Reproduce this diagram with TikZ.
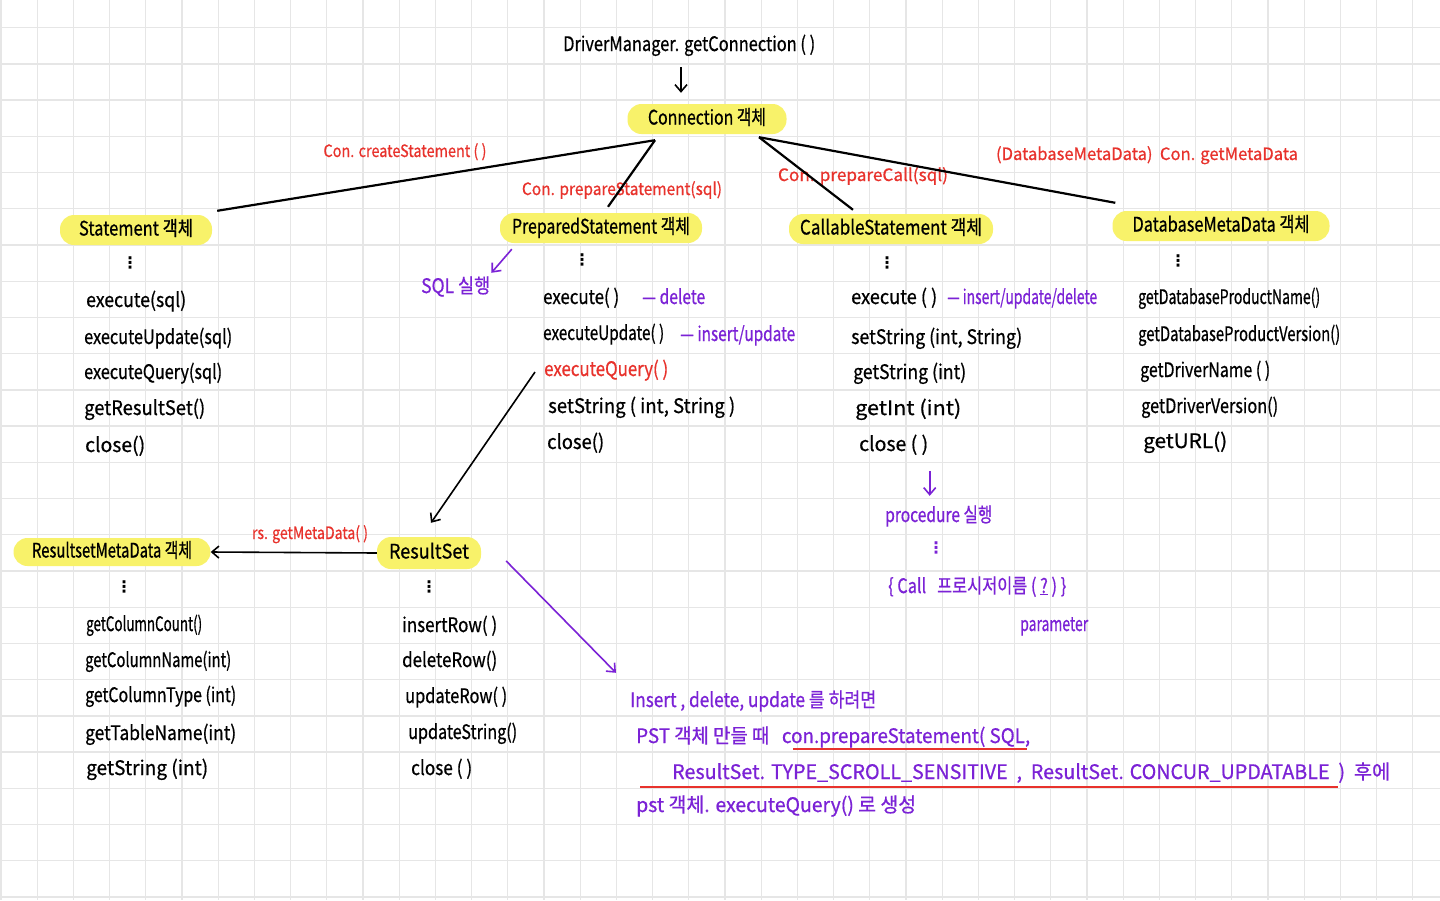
\documentclass[tikz,border=0pt]{standalone}
\usepackage{fontspec}
\setmainfont{Noto Sans CJK KR}[FakeBold=0.7]
\newfontfamily\djv{DejaVu Sans}
\usetikzlibrary{arrows.meta,calc}
\definecolor{gridc}{HTML}{E6E6E6}
\definecolor{redc}{HTML}{E8322C}
\definecolor{purc}{HTML}{7B22D6}
\definecolor{hlc}{HTML}{F8F26A}
\newsavebox\fitbx
\newlength\fitlen
\newcommand\fitw[2]{\sbox\fitbx{#2}\setlength\fitlen{\wd\fitbx}\pgfmathsetmacro\fitr{#1/\fitlen}\scalebox{\fitr}[1]{\usebox\fitbx}}
\tikzset{
  txt/.style={inner sep=0pt, anchor=west, font=\fontsize{20}{24}\selectfont, text height=16pt, text depth=4pt},
  lbl/.style={inner sep=0pt, text=redc, font=\fontsize{17}{20}\selectfont, text height=13.5pt, text depth=3.5pt},
  hd/.style={fill=hlc, rounded corners=14pt, minimum height=30pt, inner sep=0pt, font=\fontsize{20}{24}\selectfont, text height=15pt, text depth=4pt},
  vd/.style={inner sep=0pt, font=\djv\bfseries\fontsize{16}{16}\selectfont},
  pur/.style={text=purc},
  redt/.style={text=redc},
  ln/.style={line width=2.2pt, black},
  arr/.style={line width=1.6pt, -{Straight Barb[length=7pt,width=12pt]}},
  parr/.style={arr, purc},
  uline/.style={line width=1.4pt, redc}
}
\begin{document}
\begin{tikzpicture}[x=1pt,y=-1pt]
\useasboundingbox (0,0) rectangle (1440,900);
\fill[white] (0,0) rectangle (1440,900);
\foreach \i in {0,...,39} \draw[gridc, line width=1.3pt] (1+36.2*\i,0) -- (1+36.2*\i,900);
\foreach \j in {0,...,24} \draw[gridc, line width=1.3pt] (0,27.7+36.22*\j) -- (1440,27.7+36.22*\j);

% top
\node[txt] (dm) at (563,45) {\fitw{252}{DriverManager. getConnection ( )}};
\node[hd, minimum width=159pt] (con) at (707,119) {\fitw{118}{Connection 객체}};

% headers
\node[hd, minimum width=152pt] (stmt) at (136,230) {\fitw{114}{Statement 객체}};
\node[hd, minimum width=202pt] (pst) at (601,228) {\fitw{178}{PreparedStatement 객체}};
\node[hd, minimum width=204pt] (cst) at (891,229) {\fitw{182}{CallableStatement 객체}};
\node[hd, minimum width=217pt] (dbm) at (1221,226) {\fitw{177}{DatabaseMetaData 객체}};
\node[hd, minimum width=104pt, minimum height=32pt] (rs) at (429,553) {\fitw{80}{ResultSet}};
\node[hd, minimum width=197pt, minimum height=28pt] (rsm) at (112,552) {\fitw{160}{ResultsetMetaData 객체}};

% labels
\node[lbl] (l1) at (405,152) {\fitw{163}{Con. createStatement ( )}};
\node[lbl] (l2) at (622,190) {\fitw{200}{Con. prepareStatement(sql)}};
\node[lbl] (l3) at (863,176) {\fitw{170}{Con. prepareCall(sql)}};
\node[lbl] (l4) at (1147,155) {\fitw{302}{(DatabaseMetaData)\ \ Con. getMetaData}};
\node[lbl] (l5) at (310,534) {\fitw{116}{rs. getMetaData( )}};

% connectors
\coordinate (jL) at ($(con.south)+(-52,6)$);
\coordinate (jR) at ($(con.south)+(52,3)$);
\draw[ln] (jL) -- ($(stmt.north east)+(5,-4)$);
\draw[ln] (jL) -- ($(pst.north)+(7,-6)$);
\draw[ln] (jR) -- ($(cst.north)+(-38,-4)$);
\draw[ln] (jR) -- ($(dbm.north west)+(3,-8)$);
\draw[arr] ($(dm.south west)+(118,12)$) -- ($(con.north)+(-26,-11)$);

% dots
\node[vd] (d1) at (130,263) {⋮};
\node[vd] (d2) at (582,260) {⋮};
\node[vd] (d3) at (887,263) {⋮};
\node[vd] (d4) at (1178,261) {⋮};
\node[vd] (d5) at (124,587) {⋮};
\node[vd] (d6) at (429,587) {⋮};
\node[vd, purc] (d7) at (936,548) {⋮};

% Statement methods
\node[txt] (s1) at (86,301) {\fitw{100}{execute(sql)}};
\node[txt] (s2) at (84,338) {\fitw{148}{executeUpdate(sql)}};
\node[txt] (s3) at (84,373) {\fitw{138}{executeQuery(sql)}};
\node[txt] (s4) at (84,409) {\fitw{121}{getResultSet()}};
\node[txt] (s5) at (85,446) {\fitw{60}{close()}};

% PreparedStatement methods
\node[txt] (p1) at (543,298) {\fitw{76}{execute( )}};
\node[txt, pur] (p1b) at (642,298) {\fitw{63}{— delete}};
\node[txt] (p2) at (543,334) {\fitw{121}{executeUpdate( )}};
\node[txt, pur] (p2b) at (680,335) {\fitw{115}{— insert/update}};
\node[txt, redt] (exq) at (544,370) {\fitw{124}{executeQuery( )}};
\node[txt] (p4) at (548,407) {\fitw{187}{setString ( int, String )}};
\node[txt] (p5) at (547,443) {\fitw{57}{close()}};
\node[txt, pur] (sqlx) at (421,287) {\fitw{69}{SQL 실행}};
\draw[parr] ($(pst.south west)+(12,6)$) -- ($(sqlx.north east)+(1,-4)$);

% CallableStatement methods
\node[txt] (c1) at (851,298) {\fitw{86}{execute ( )}};
\node[txt, pur] (c1b) at (947,298) {\fitw{150}{— insert/update/delete}};
\node[txt] (c2) at (851,338) {\fitw{171}{setString (int, String)}};
\node[txt] (c3) at (853,373) {\fitw{113}{getString (int)}};
\node[txt] (c4) at (855,409) {\fitw{106}{getInt (int)}};
\node[txt] (c5) at (859,445) {\fitw{69}{close ( )}};
\node[txt, pur] (proc) at (885,516) {\fitw{107}{procedure 실행}};
\draw[parr] ($(proc.north)+(-9,-35)$) -- ($(proc.north)+(-9,-10)$);
\node[txt, pur] (call) at (888,587) {\fitw{178}{\{ Call\ \ \ 프로시저이름 ( \underline{?} ) \}}};
\node[txt, pur] (param) at (1020,625) {\fitw{68}{parameter}};

% DatabaseMetaData methods
\node[txt] (m1) at (1138,298) {\fitw{182}{getDatabaseProductName()}};
\node[txt] (m2) at (1138,335) {\fitw{202}{getDatabaseProductVersion()}};
\node[txt] (m3) at (1140,371) {\fitw{130}{getDriverName ( )}};
\node[txt] (m4) at (1141,407) {\fitw{137}{getDriverVersion()}};
\node[txt] (m5) at (1143,442) {\fitw{84}{getURL()}};

% ResultSet
\draw[arr] ($(exq.west)+(-9,2)$) -- ($(rs.north)+(2,-14)$);
\draw[arr] (rs.west) -- (rsm.east);
\node[txt] (r1) at (402,626) {\fitw{95}{insertRow( )}};
\node[txt] (r2) at (402,661) {\fitw{95}{deleteRow()}};
\node[txt] (r3) at (405,697) {\fitw{102}{updateRow( )}};
\node[txt] (r4) at (408,733) {\fitw{109}{updateString()}};
\node[txt] (r5) at (411,769) {\fitw{61}{close ( )}};

% ResultSetMetaData
\node[txt] (q1) at (86,625) {\fitw{116}{getColumnCount()}};
\node[txt] (q2) at (85,661) {\fitw{146}{getColumnName(int)}};
\node[txt] (q3) at (85,696) {\fitw{151}{getColumnType (int)}};
\node[txt] (q4) at (85,734) {\fitw{151}{getTableName(int)}};
\node[txt] (q5) at (86,769) {\fitw{122}{getString (int)}};

% note
\node[txt, pur] (n1) at (630,701) {\fitw{246}{Insert , delete, update 를 하려면}};
\draw[parr] ($(rs.east)+(25,8)$) -- ($(n1.north west)+(-14,-18)$);
\node[txt, pur] (n2) at (636,737) {\fitw{394}{PST 객체 만들 때\ \ \ con.prepareStatement( SQL,}};
\node[txt, pur] (n3) at (672,773) {\fitw{718}{ResultSet. TYPE\_SCROLL\_SENSITIVE\ \ ,\ \ ResultSet. CONCUR\_UPDATABLE\ \ )\ \ 후에}};
\node[txt, pur] (n4) at (636,806) {\fitw{280}{pst 객체. executeQuery() 로 생성}};
\draw[uline] (793,749) -- (1027,749);
\draw[uline] (640,787) -- (1338,787);
\end{tikzpicture}
\end{document}
